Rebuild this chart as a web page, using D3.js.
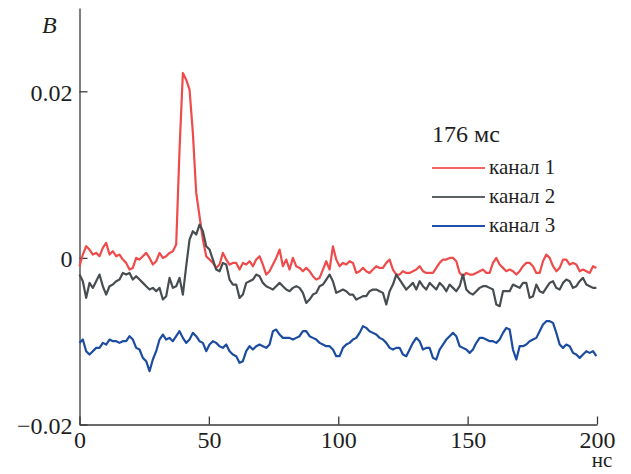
<!DOCTYPE html>
<html>
<head>
<meta charset="utf-8">
<script src="https://cdn.jsdelivr.net/npm/d3@7"></script>
</head>
<body style="margin:0">
<script>
// signal values in units of 10^-3 V, one sample every 1.2887 ns (0 .. ~200 ns)
const step = 1.2887;

const channel1 = [
  -1.0, 0.4, 1.4, 1.0, 0.4, 0.6, 0.2, 1.2, 1.8, 0.4, 0.8, 0.2, 0.4, -0.2, -0.6, -1.4, -1.2, 0, -0.2, 0.2,
  0.6, 0, -0.8, -0.4, 0.6, 0, 0.2, 0.6, 0.8, 1.6, 13, 22.2, 21.4, 20.2, 15, 7.8, 5.0, 2.2, 0.2,
  -0.2, -0.6, -1.2, -0.8, 0.6, -0.2, -0.8, -0.6, -0.6, -1.4, -0.6, -0.8, -0.4, -1.0, -0.2, 0.2, -0.8, -2.0, -1.6, -0.8,
  0, 1.0, -1.0, -0.2, -1.4, 0, -1.0, -1.2, -1.6, -1.2, -1.6, -2.2, -2.6, -2.4, -1.4, -0.4, -1.4, 1.4, -0.2,
  -1.0, -0.6, -0.8, -0.4, -0.6, -1.8, -1.6, -1.2, -1.6, -1.8, -1.4, -1.0, -1.2, -1.2, -0.6, -0.2, -1.4, -2.0, -2.0, -1.6,
  -1.8, -1.8, -1.6, -1.4, -1.0, -1.6, -1.8, -1.8, -1.8, -1.2, -0.6, -0.2, -0.2, 0, 0, -0.4, -1.8, -2.2, -1.8,
  -2.0, -2.0, -1.8, -1.6, -1.4, -1.8, -1.8, -0.6, 0, -0.8, -1.2, -1.6, -1.4, -1.6, -2.0, -1.6, -1.0, -0.6, -0.6, -1.0,
  -1.8, -1.8, -0.4, 0.4, 0, -1.0, -1.6, -1.2, -0.2, -0.2, -0.8, -0.6, -0.8, -1.6, -1.4, -1.6, -1.8, -1.0, -1.2
];

const channel2 = [
  -2.0, -2.8, -4.8, -3.0, -3.6, -2.8, -2.0, -3.4, -4.4, -3.4, -3.2, -2.8, -2.6, -1.8, -2.0, -1.8, -2.6, -2.2, -2.6, -3.0,
  -3.4, -3.8, -3.6, -4.0, -3.6, -5.0, -4.6, -2.4, -3.6, -3.4, -2.4, -4.4, -1.0, 2.2, 3.2, 2.8, 4.0, 3.2, 1.4,
  1.0, -0.2, -1.4, -1.6, -0.6, -0.8, -2.6, -3.2, -3.2, -4.8, -4.4, -3.0, -2.8, -2.6, -2.0, -2.2, -3.0, -3.4, -3.6, -3.8,
  -3.4, -3.0, -3.4, -3.8, -4.0, -3.6, -3.4, -3.6, -4.2, -5.4, -5.0, -4.4, -4.2, -3.4, -3.2, -2.6, -2.0, -2.8, -4.2,
  -4.0, -3.8, -4.0, -4.4, -4.4, -5.0, -4.8, -4.6, -4.6, -4.0, -3.8, -3.8, -4.0, -4.2, -5.6, -4.0, -3.2, -2.0, -2.6, -3.2,
  -3.8, -3.4, -3.0, -3.8, -2.8, -3.4, -3.8, -3.0, -3.4, -3.8, -3.0, -3.4, -4.0, -3.2, -3.6, -4.0, -3.4, -2.0, -3.8,
  -4.2, -4.4, -4.0, -3.6, -3.4, -3.4, -3.6, -3.8, -5.6, -5.8, -4.0, -4.0, -4.0, -3.2, -3.4, -3.6, -3.0, -3.0, -4.8, -4.6,
  -3.2, -4.0, -4.2, -3.6, -3.0, -2.8, -3.6, -3.8, -3.0, -2.6, -2.8, -3.6, -3.4, -2.8, -2.4, -3.2, -3.4, -3.6, -3.6
];

const channel3 = [
  -10.2, -9.8, -11.2, -11.6, -11.2, -10.8, -10.8, -10.2, -10.4, -9.8, -10.0, -10.0, -10.2, -10.0, -10.0, -9.4, -9.8, -10.8, -11.0, -12.0,
  -12.4, -13.6, -12.2, -11.2, -9.8, -9.2, -9.8, -9.6, -10.0, -9.4, -8.8, -9.6, -10.2, -9.8, -9.0, -9.4, -10.0, -10.2, -11.2,
  -10.4, -10.0, -10.2, -10.6, -10.8, -10.4, -11.2, -11.6, -11.8, -12.6, -12.4, -11.2, -10.6, -11.0, -10.6, -10.4, -10.6, -10.8, -10.4, -8.8,
  -8.6, -9.2, -9.6, -9.6, -9.6, -9.8, -9.6, -9.4, -8.8, -8.8, -9.4, -9.6, -9.8, -10.2, -10.4, -10.6, -10.6, -11.0, -11.8,
  -11.8, -10.8, -10.4, -10.2, -9.8, -9.6, -9.0, -8.2, -8.4, -8.8, -9.0, -9.2, -9.6, -9.8, -10.2, -10.8, -11.0, -10.8, -10.8, -11.6,
  -11.8, -11.0, -10.2, -9.6, -10.0, -11.0, -10.8, -10.8, -12.0, -12.2, -11.0, -10.4, -9.8, -9.4, -9.0, -9.4, -10.6, -10.8, -11.0,
  -11.4, -11.0, -10.2, -9.6, -9.6, -9.8, -10.0, -10.0, -10.2, -9.8, -9.0, -8.4, -8.6, -11.0, -12.2, -10.6, -10.6, -10.4, -10.0, -9.8,
  -9.6, -8.8, -8.0, -7.6, -7.6, -7.8, -9.0, -10.4, -10.8, -10.4, -10.6, -11.4, -11.6, -12.0, -11.6, -11.2, -11.4, -11.2, -11.8
];

const xTicks = [0, 50, 100, 150, 200];
const yTicks = [-20, 0, 20];
const yTickLabels = ["\u22120.02", "0", "0.02"];
const legendTitle = "176 мс";
const seriesNames = ["канал 1", "канал 2", "канал 3"];

const colors = ["#ef4b4b", "#474d50", "#1b4ca0"];
const legendColors = ["#f26464", "#5c6264", "#2050a8"];

const font = "Liberation Serif";
const ink = "#1e1e1e";

const width = 631, height = 474;

const svg = d3.select("body").append("svg")
  .attr("width", width)
  .attr("height", height)
  .attr("font-family", font);

const x = d3.scaleLinear().domain([0, 200]).range([79.5, 597]);
const y = d3.scaleLinear().domain([-20, 30]).range([424.5, 8]);

// axes, ticks pointing inward
const xAxis = d3.axisBottom(x).tickValues(xTicks).tickSizeInner(-8).tickSizeOuter(0);
const yAxis = d3.axisLeft(y).tickValues(yTicks).tickSizeInner(-8).tickSizeOuter(0)
  .tickFormat((d, i) => yTickLabels[i]);

const gx = svg.append("g")
  .attr("transform", "translate(0," + y(-20) + ")")
  .call(xAxis);
gx.selectAll("text")
  .attr("y", 23)
  .attr("dy", 0);

const gy = svg.append("g")
  .attr("transform", "translate(" + x(0) + ",0)")
  .call(yAxis);
gy.selectAll("text")
  .attr("x", -7)
  .attr("dy", 9);

svg.selectAll(".domain, .tick line")
  .attr("stroke", "#3a3a3a")
  .attr("stroke-width", 1.3);
svg.selectAll(".tick text")
  .attr("fill", ink)
  .attr("font-family", font)
  .attr("font-size", 24);

// axis titles
svg.append("text")
  .attr("x", 42).attr("y", 33)
  .attr("fill", ink)
  .attr("font-family", font)
  .attr("font-size", 24)
  .attr("font-style", "italic")
  .text("B");

svg.append("text")
  .attr("x", 602).attr("y", 467)
  .attr("text-anchor", "middle")
  .attr("fill", ink)
  .attr("font-family", font)
  .attr("font-size", 21)
  .text("нс");

// signal traces
const line = d3.line()
  .x((d, i) => x(i * step))
  .y(d => y(d));

[channel1, channel2, channel3].forEach((s, k) => {
  svg.append("path")
    .datum(s)
    .attr("fill", "none")
    .attr("stroke", colors[k])
    .attr("stroke-width", 2.2)
    .attr("stroke-linejoin", "round")
    .attr("d", line);
});

// legend
svg.append("text")
  .attr("x", 432).attr("y", 142)
  .attr("fill", ink)
  .attr("font-family", font)
  .attr("font-size", 24)
  .text(legendTitle);

seriesNames.forEach((name, k) => {
  const ly = 168 + k * 29;
  svg.append("line")
    .attr("x1", 432).attr("x2", 485)
    .attr("y1", ly).attr("y2", ly)
    .attr("stroke", legendColors[k])
    .attr("stroke-width", 2);
  svg.append("text")
    .attr("x", 489).attr("y", ly + 6)
    .attr("fill", ink)
    .attr("font-family", font)
    .attr("font-size", 21)
    .text(name);
});
</script>
</body>
</html>
